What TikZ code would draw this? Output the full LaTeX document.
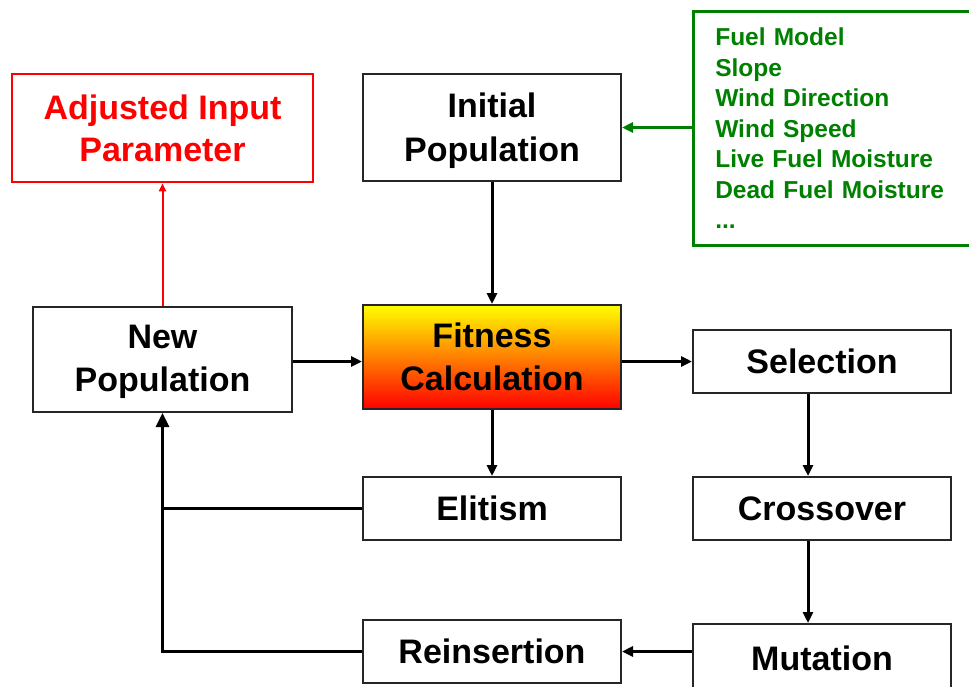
\documentclass[tikz,border=0pt]{standalone}
\usepackage{fontspec}
\setmainfont{Liberation Sans}
\usetikzlibrary{arrows.meta,calc}
\definecolor{gfg}{RGB}{0,128,0}
\definecolor{rfg}{RGB}{255,0,0}
\definecolor{midorange}{RGB}{255,175,0}
\begin{document}
\begin{tikzpicture}[x=1pt,y=-1pt,
  box/.style={draw=black!85,line width=2pt,inner sep=0pt,minimum width=258pt,align=center,
    font=\fontsize{34}{43}\selectfont\bfseries},
  boxtext/.style={inner sep=0pt,align=center,font=\fontsize{34}{43}\selectfont\bfseries},
  arr/.style={line width=3pt,-{Triangle[length=11pt,width=10pt]}},
  bigarr/.style={line width=3pt,-{Triangle[length=14pt,width=13pt]}},
  plain/.style={line width=3pt}]
\useasboundingbox (0,0) rectangle (969,686);
\node[box,draw=rfg,line width=2.6pt,text=rfg,minimum width=301pt,minimum height=108pt] (adj) at (162.5,128) {Adjusted Input\\[-1pt]Parameter};
\node[box,minimum height=107pt] (init) at (492,127.5) {};
\node[boxtext] (inittext) at ([yshift=-3pt]init.center) {Initial\\[1pt]Population};
\node[draw=gfg,line width=2.6pt,text=gfg,anchor=north west,inner xsep=22pt,inner ysep=0pt,
  text width=270pt,minimum height=234pt,align=left,
  font=\fontsize{24.5}{30.5}\selectfont\bfseries] (green) at (692,10)
  {Fuel Model\\Slope\\Wind Direction\\Wind Speed\\Live Fuel Moisture\\Dead Fuel Moisture\\...};
\node[box,minimum width=259pt,minimum height=105pt] (newpop) at (162.5,359.5) {};
\node[boxtext] (newpoptext) at ([yshift=-2pt]newpop.center) {New\\Population};
\node[box,minimum height=104pt,top color=yellow,middle color=midorange,bottom color=rfg] (fit) at (492,357) {Fitness\\Calculation};
\node[box,minimum height=63pt] (sel) at (822,361.5) {Selection};
\node[box,minimum height=63pt] (eli) at (492,508.5) {Elitism};
\node[box,minimum height=63pt] (cro) at (822,508.5) {Crossover};
\node[box,minimum height=63pt] (rei) at (492,651.5) {Reinsertion};
\node[box,minimum height=68pt] (mut) at (822,658) {Mutation};
% connectors
\draw[arr] (init.south) -- (fit.north);
\draw[arr,draw=gfg,fill=gfg] (green.west |- init.east) -- (init.east);
\draw[line width=2pt,-{Triangle[length=8pt,width=7pt]},draw=rfg,fill=rfg] (newpop.north) -- (adj.south);
\draw[arr] (newpop.east |- sel.west) -- (fit.west |- sel.west);
\draw[arr] (fit.east |- sel.west) -- (sel.west);
\draw[arr] (fit.south) -- (eli.north);
\draw[arr] ([xshift=-14pt]sel.south) -- ([xshift=-14pt]cro.north);
\draw[arr] ([xshift=-14pt]cro.south) -- ([xshift=-14pt]mut.north);
\draw[arr] (mut.west |- rei.east) -- (rei.east);
\draw[plain] (eli.west) -- (eli.west -| newpop.south);
\draw[bigarr] (rei.west) -| (newpop.south);
\end{tikzpicture}
\end{document}
